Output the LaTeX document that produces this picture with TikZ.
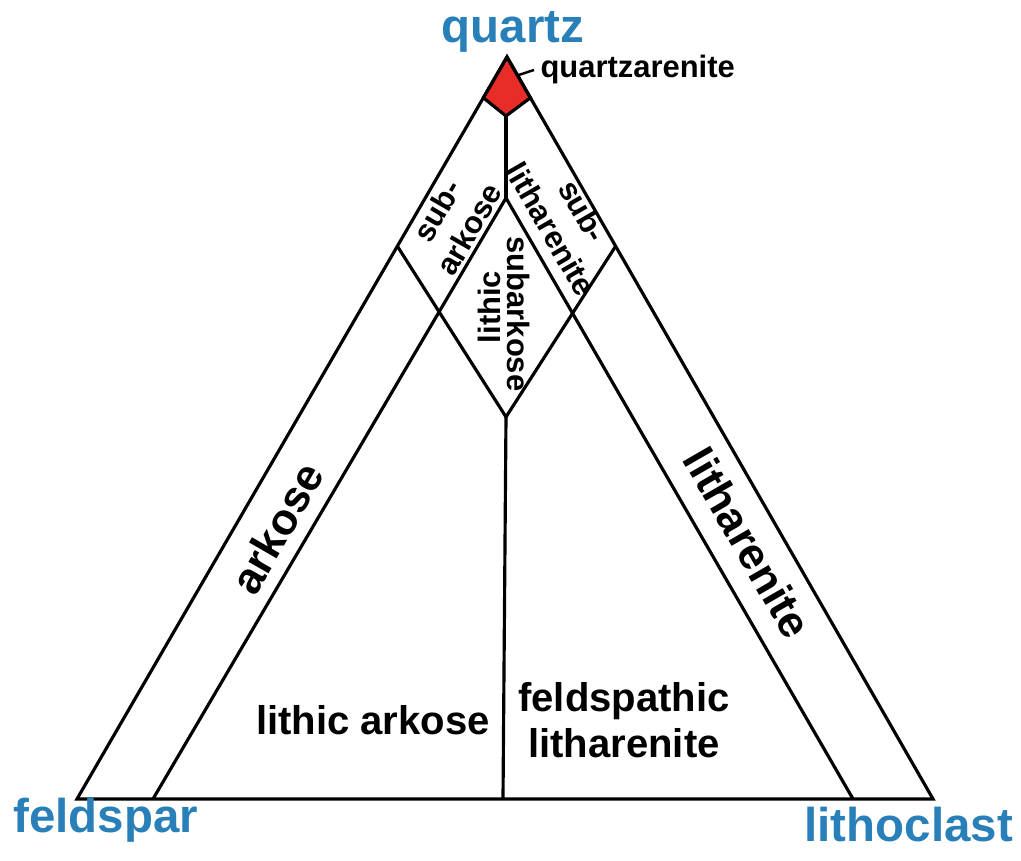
\documentclass[tikz,border=0pt]{standalone}
\usepackage{fontspec}
\setmainfont{Liberation Sans}
\usetikzlibrary{calc}
\definecolor{qzblue}{RGB}{41,128,185}
\definecolor{qzred}{RGB}{232,45,40}
\begin{document}
\begin{tikzpicture}[
    line width=0.9pt,
    pole/.style={font=\bfseries\fontsize{13.5}{16}\selectfont, text=qzblue, inner sep=0pt},
    field/.style={font=\bfseries\fontsize{12.5}{15}\selectfont, inner sep=0pt},
    midfield/.style={font=\bfseries\fontsize{11.4}{13.1}\selectfont, inner sep=0pt, align=center},
    smallfield/.style={font=\bfseries\fontsize{8.8}{10.5}\selectfont, inner sep=0pt, align=center},
  ]
  \useasboundingbox (0,0) rectangle (10.21,8.61);
  % corners of the triangle
  \coordinate (Q) at (5.07,8.04);
  \coordinate (F) at (0.77,0.62);
  \coordinate (L) at (9.33,0.62);
  % quartzarenite cap
  \coordinate (qa-l) at ($(Q)!0.055!(F)$);
  \coordinate (qa-r) at ($(Q)!0.055!(L)$);
  \coordinate (qa-b) at (5.06,7.45);
  % inner points
  \coordinate (c-top) at (5.06,6.63);
  \coordinate (s-l) at ($(Q)!0.255!(F)$);
  \coordinate (s-r) at ($(Q)!0.255!(L)$);
  \coordinate (d-b) at (5.06,4.44);
  \coordinate (in-l) at (1.53,0.62);
  \coordinate (in-r) at (8.53,0.62);
  \coordinate (base-m) at (5.03,0.62);

  \filldraw[fill=qzred] (Q) -- (qa-l) -- (qa-b) -- (qa-r) -- cycle;
  \draw (Q) -- (F) -- (L) -- cycle;
  \draw (qa-b) -- (c-top);
  \draw (c-top) -- (in-l);
  \draw (c-top) -- (in-r);
  \draw (s-l) -- (d-b);
  \draw (s-r) -- (d-b);
  \draw (d-b) -- (base-m);

  % end members
  \node[pole, anchor=base] (quartz) at (5.13,8.18) {quartz};
  \node[pole, anchor=base west] (feldspar) at (0.12,0.28) {feldspar};
  \node[pole, anchor=base west] (lithoclast) at (8.03,0.19) {lithoclast};

  % fields
  \node[smallfield, anchor=base west] (qa-lbl) at (5.39,7.83) {quartzarenite};
  \draw[line width=0.7pt] ($(Q)!0.45!(qa-r)$) -- ([xshift=-0.05cm]qa-lbl.west);
  \node[smallfield, rotate=60] (subark) at (4.53,6.41) {sub-\\arkose};
  \node[smallfield, rotate=-60] (sublith) at (5.67,6.41) {sub-\\litharenite};
  \node[smallfield, rotate=90] (lithic) at (4.89,5.54) {lithic};
  \node[smallfield, rotate=-90] (subark2) at (5.19,5.47) {subarkose};
  \node[field, rotate=60] (ark) at (2.77,3.33) {arkose};
  \node[field, rotate=-60] (lith) at (7.48,3.18) {litharenite};
  \node[midfield, anchor=base] (lithark) at (3.73,1.26) {lithic arkose};
  \node[midfield] (feldlith) at (6.24,1.41) {feldspathic\\litharenite};
\end{tikzpicture}
\end{document}
